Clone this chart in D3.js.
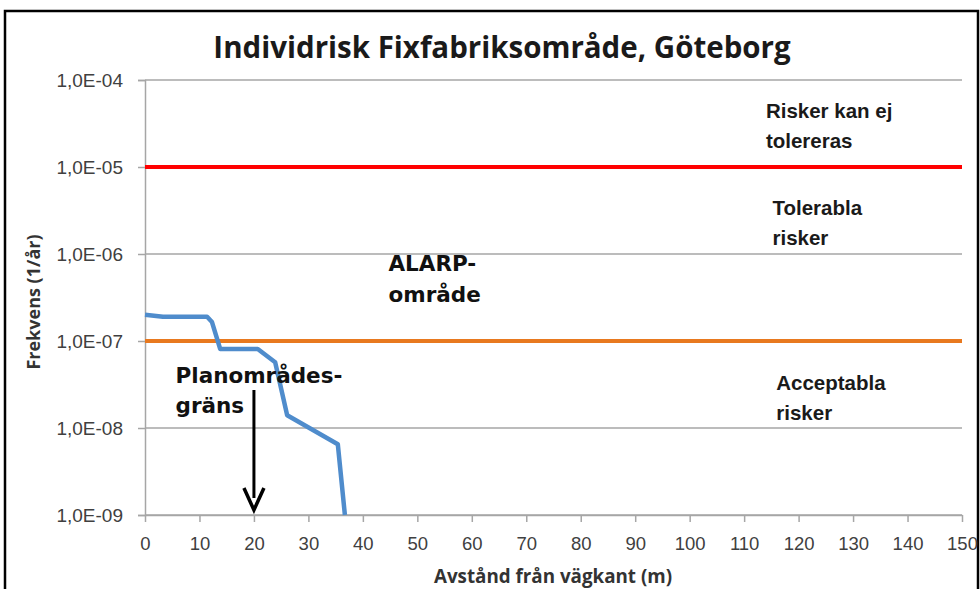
<!DOCTYPE html>
<html>
<head>
<meta charset="utf-8">
<script src="https://cdn.jsdelivr.net/npm/d3@7"></script>
<style>
  body { margin: 0; background: #fff; }
  svg { display: block; }
</style>
</head>
<body>
<div id="chart"></div>
<script>
// distance from road edge (m) and individual risk (1/år)
const distances = [0, 3.3, 11.4, 12.3, 13.8, 20.7, 23.9, 26.1, 35.4, 36.7];
const risk = [2.0e-7, 1.9e-7, 1.9e-7, 1.65e-7, 8.1e-8, 8.1e-8, 5.7e-8, 1.4e-8, 6.5e-9, 1.0e-9];

// criteria lines
const upperLimit = 1e-5;
const lowerLimit = 1e-7;

const xTicks = d3.range(0, 151, 10);
const yTicks = [1e-4, 1e-5, 1e-6, 1e-7, 1e-8, 1e-9];
const yTickLabels = ["1,0E-04", "1,0E-05", "1,0E-06", "1,0E-07", "1,0E-08", "1,0E-09"];

const title = "Individrisk Fixfabriksområde, Göteborg";
const xTitle = "Avstånd från vägkant (m)";
const yTitle = "Frekvens (1/år)";

const width = 980;
const height = 589;
const margin = {top: 80, right: 18, bottom: 74, left: 145};

const svg = d3.select("#chart")
  .append("svg")
  .attr("width", width)
  .attr("height", height);

// outer frame
svg.append("rect")
  .attr("x", 5).attr("y", 11)
  .attr("width", 973).attr("height", 600)
  .attr("fill", "none")
  .attr("stroke", "#000")
  .attr("stroke-width", 2.5);

const x = d3.scaleLinear()
  .domain([0, 150])
  .range([margin.left, width - margin.right]);

const y = d3.scaleLog()
  .domain([1e-9, 1e-4])
  .range([height - margin.bottom, margin.top]);

// gridlines
svg.append("g")
  .selectAll("line")
  .data(yTicks)
  .enter().append("line")
  .attr("x1", x(0))
  .attr("x2", x(150))
  .attr("y1", d => y(d))
  .attr("y2", d => y(d))
  .attr("stroke", "#a6a6a6")
  .attr("stroke-width", 1.5);

// y axis
const yAxis = svg.append("g")
  .attr("transform", `translate(${x(0)},0)`)
  .call(d3.axisLeft(y).tickValues(yTicks).tickSize(7).tickPadding(15)
    .tickFormat((d, i) => yTickLabels[i]));
yAxis.select(".domain").attr("stroke", "#a6a6a6").attr("stroke-width", 1.5);
yAxis.selectAll(".tick line").attr("stroke", "#a6a6a6").attr("stroke-width", 1.5);
yAxis.selectAll("text")
  .attr("font-family", "Liberation Sans, Arial, sans-serif")
  .attr("font-size", 19)
  .attr("fill", "#404040");

// x axis
const xAxis = svg.append("g")
  .attr("transform", `translate(0,${y(1e-9)})`)
  .call(d3.axisBottom(x).tickValues(xTicks).tickSize(7).tickPadding(15).tickSizeOuter(0));
xAxis.select(".domain").attr("stroke", "#a6a6a6").attr("stroke-width", 1.5);
xAxis.selectAll(".tick line").attr("stroke", "#a6a6a6").attr("stroke-width", 1.5);
xAxis.selectAll("text")
  .attr("font-family", "Liberation Sans, Arial, sans-serif")
  .attr("font-size", 18.5)
  .attr("fill", "#404040");

// risk criteria
svg.append("line")
  .attr("x1", x(0)).attr("x2", x(150))
  .attr("y1", y(upperLimit)).attr("y2", y(upperLimit))
  .attr("stroke", "#ff0000")
  .attr("stroke-width", 4);

svg.append("line")
  .attr("x1", x(0)).attr("x2", x(150))
  .attr("y1", y(lowerLimit)).attr("y2", y(lowerLimit))
  .attr("stroke", "#e8791f")
  .attr("stroke-width", 4);

// risk curve
const line = d3.line()
  .x(d => x(d[0]))
  .y(d => y(d[1]));

svg.append("path")
  .datum(d3.zip(distances, risk))
  .attr("d", line)
  .attr("fill", "none")
  .attr("stroke", "#4f8ccc")
  .attr("stroke-width", 4.5)
  .attr("stroke-linejoin", "round");

// titles
svg.append("text")
  .attr("x", 502).attr("y", 58)
  .attr("text-anchor", "middle")
  .attr("font-family", "Open Sans, sans-serif")
  .attr("font-size", 29.5)
  .attr("font-weight", 700)
  .attr("fill", "#1a1a1a")
  .text(title);

svg.append("text")
  .attr("x", 553).attr("y", 583)
  .attr("text-anchor", "middle")
  .attr("font-family", "Open Sans, sans-serif")
  .attr("font-size", 18.8)
  .attr("font-weight", 700)
  .attr("fill", "#333")
  .text(xTitle);

svg.append("text")
  .attr("transform", "translate(40,302) rotate(-90)")
  .attr("text-anchor", "middle")
  .attr("font-family", "Open Sans, sans-serif")
  .attr("font-size", 18)
  .attr("font-weight", 700)
  .attr("fill", "#333")
  .text(yTitle);

// zone labels on the right
const zoneFont = "Liberation Sans, Arial, sans-serif";
function zoneLabel(lines, px, py) {
  const t = svg.append("text")
    .attr("font-family", zoneFont)
    .attr("font-size", 20.5)
    .attr("font-weight", 700)
    .attr("fill", "#1a1a1a");
  lines.forEach((s, i) => {
    t.append("tspan").attr("x", px).attr("y", py + i * 30).text(s);
  });
}
zoneLabel(["Risker kan ej", "tolereras"], x(114), 118);
zoneLabel(["Tolerabla", "risker"], x(115.2), 215);
zoneLabel(["Acceptabla", "risker"], x(115.9), 390);

// ALARP label
const alarp = svg.append("text")
  .attr("font-family", "DejaVu Sans, sans-serif")
  .attr("font-size", 21.5)
  .attr("font-weight", 700)
  .attr("fill", "#111");
alarp.append("tspan").attr("x", x(44.7)).attr("y", 271).text("ALARP-");
alarp.append("tspan").attr("x", x(44.7)).attr("y", 302).text("område");

// plan boundary label and arrow
const plan = svg.append("text")
  .attr("font-family", "DejaVu Sans, sans-serif")
  .attr("font-size", 21.5)
  .attr("font-weight", 700)
  .attr("fill", "#111");
plan.append("tspan").attr("x", x(5.6)).attr("y", 383).text("Planområdes-");
plan.append("tspan").attr("x", x(5.6)).attr("y", 413).text("gräns");

const ax = x(20);
const tipY = y(1e-9) - 5;
svg.append("line")
  .attr("x1", ax).attr("x2", ax)
  .attr("y1", 390).attr("y2", tipY - 12)
  .attr("stroke", "#000")
  .attr("stroke-width", 3);
svg.append("path")
  .attr("d", `M${ax - 10},${tipY - 22} L${ax},${tipY} L${ax + 10},${tipY - 22}`)
  .attr("fill", "none")
  .attr("stroke", "#000")
  .attr("stroke-width", 3.5);
</script>
</body>
</html>
